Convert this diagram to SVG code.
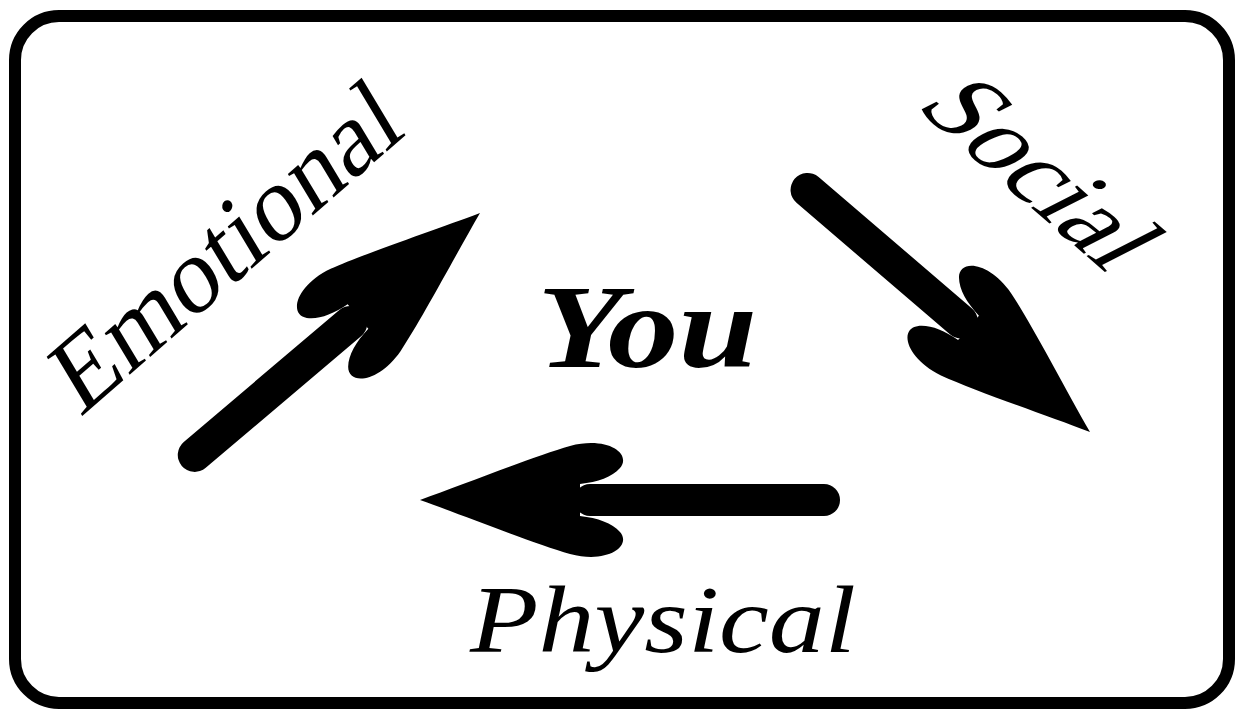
<svg xmlns="http://www.w3.org/2000/svg" width="1241" height="711" viewBox="0 0 1241 711">
  <style>
    .frame { fill: #ffffff; stroke: #000000; stroke-width: 12; }
    .shaft { stroke: #000000; stroke-width: 34; stroke-linecap: round; fill: none; }
    .head { fill: #000000; }
    .lbl { font-family: "Liberation Serif", "Times New Roman", serif; fill: #000000; font-size: 102px; }
    .it { font-style: italic; font-size: 95px; }
    .you { font-family: "Liberation Serif", "Times New Roman", serif; font-style: italic; font-weight: bold; font-size: 118px; fill: #000000; }
  </style>
  <defs>
    <path id="arrowHead" class="head" d="M0,0 C-45,-16 -115,-44 -150,-54 C-188,-64 -212,-46 -200,-32 C-192,-23 -178,-18 -160,-16 L-160,16 C-178,18 -192,23 -200,32 C-212,46 -188,64 -150,54 C-115,44 -45,16 0,0 Z"/>
  </defs>
  <rect x="0" y="0" width="1241" height="711" fill="#ffffff"/>
  <rect id="frame" class="frame" x="15" y="16" width="1214" height="687" rx="44" ry="44"/>

  <g id="connectors">
    <g id="arrow-emotional" transform="translate(480,213) rotate(-40.3)">
      <line class="shaft" x1="-170" y1="0" x2="-374" y2="0"/>
      <use href="#arrowHead"/>
    </g>
    <g id="arrow-social" transform="translate(1090,432) rotate(40.6)">
      <line class="shaft" x1="-170" y1="0" x2="-372" y2="0"/>
      <use href="#arrowHead"/>
    </g>
    <g id="arrow-physical" transform="translate(420,500) rotate(180)">
      <line class="shaft" x1="-170" y1="0" x2="-404" y2="0" style="stroke-width:32"/>
      <use href="#arrowHead"/>
    </g>
  </g>

  <g id="node-emotional">
    <text class="lbl" transform="translate(80,418) rotate(-41) skewX(-10)" x="0" y="0" style="font-size:104px">Emotional</text>
  </g>
  <g id="node-social">
    <text class="lbl" transform="translate(914,106) rotate(41) skewX(-22)" x="0" y="0">Social</text>
  </g>
  <g id="node-you">
    <text class="you" transform="translate(537,367) scale(1.2,1)" x="0" y="0">You</text>
  </g>
  <g id="node-physical">
    <text class="lbl it" transform="translate(470,652) scale(1.18,1)" x="0" y="0">Physical</text>
  </g>
</svg>
